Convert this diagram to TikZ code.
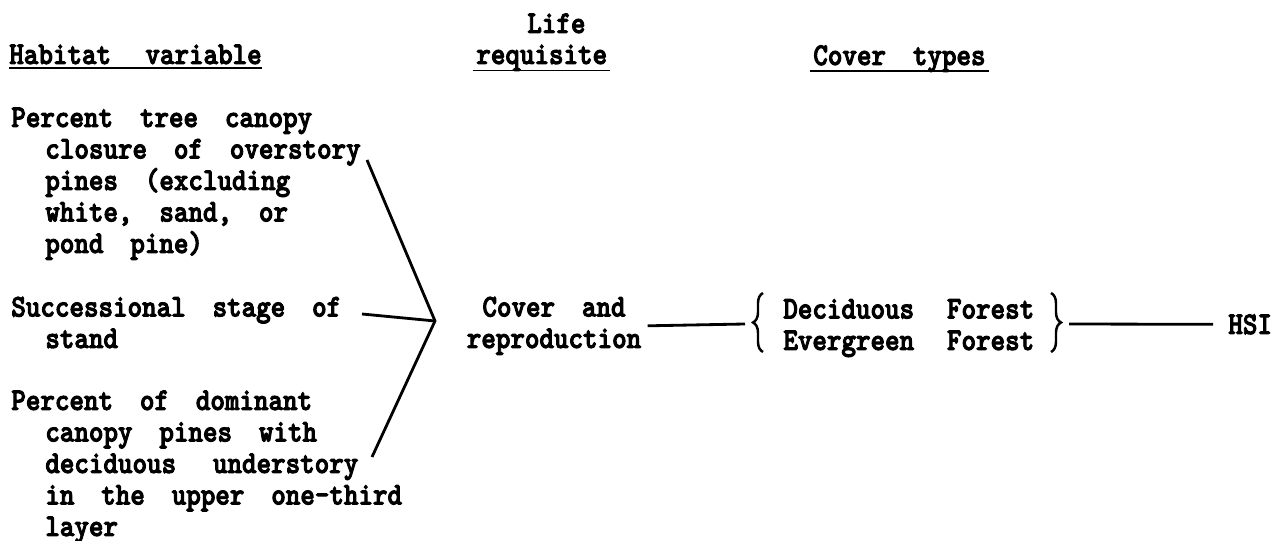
\documentclass[tikz,border=0pt]{standalone}
\usepackage{fontspec}
\usepackage{tikz}
\usetikzlibrary{positioning, decorations.pathreplacing}
\newfontfamily\typer{lmmonolt10-bold.otf}[FakeStretch=0.875, FakeBold=3, WordSpace=1.85]
\newcommand{\indnt}{\hspace*{6.8mm}}
\tikzset{
  txt/.style={inner sep=0pt, font=\typer\fontsize{18}{17.93}\selectfont},
  link/.style={line width=1.6pt},
  uline/.style={line width=1.1pt},
  brc/.style={line width=1.4pt, decorate, decoration={brace, amplitude=2mm}}
}
\begin{document}
\begin{tikzpicture}[x=0.2mm, y=-0.2mm]
\useasboundingbox (0,0) rectangle (1280,541);

% --- column headings ---
\node[txt, anchor=base west] (hdvar) at (9,64) {Habitat\hspace{1.5mm} variable};
\node[txt, anchor=base west] (hdlife) at (527,33) {Life};
\node[txt, anchor=base west] (hdreq) at (476,64) {requisite};
\node[txt, anchor=base west] (hdcov) at (813,65) {Cover types};
\draw[uline] ([yshift=-0.8mm]hdvar.base west) -- ([yshift=-0.8mm]hdvar.base east);
\draw[uline] ([shift={(-0.6mm,-1.3mm)}]hdreq.base west) -- ([shift={(0.6mm,-1.3mm)}]hdreq.base east);
\draw[uline] ([shift={(-0.6mm,-1.2mm)}]hdcov.base west) -- ([shift={(0.6mm,-1.2mm)}]hdcov.base east);

% --- habitat variables (base = last line) ---
\node[txt, anchor=base west, align=left] (hab1) at (11,253) {Percent tree canopy\\
  \indnt closure of overstory\\ \indnt pines (excluding\\ \indnt white, sand, or\\ \indnt pond pine)};
\node[txt, anchor=base west, align=left] (hab2) at (11,348) {Successional stage of\\ \indnt stand};
\node[txt, anchor=base west, align=left] (hab3) at (11,536) {Percent of dominant\\
  \indnt canopy pines with\\ \indnt deciduous\hspace{2mm} understory\\ \indnt in the upper one-third\\ \indnt layer};

\coordinate (jn) at (435,321);
\coordinate (e1) at (367,160);
\coordinate (e2) at (362,314);
\coordinate (e3) at (372,457);
\draw[link] (e1) -- (jn) -- (e3);
\draw[link] (e2) -- (jn);

% --- life requisite, cover types, HSI ---
\node[txt, anchor=base, align=center] (lrcov) at (554,348) {Cover and\\reproduction};
\node[txt, anchor=base west, align=left] (ctypes) at (783,350)
  {Deciduous\hspace{1.2mm} Forest\\Evergreen\hspace{1.2mm} Forest};
\node[txt, anchor=base west] (hsi) at (1228,334) {HSI};

\draw[brc] (763,352) -- (763,293);
\draw[brc] (1051,293) -- (1051,352);
\coordinate (lbr) at (753,324);
\coordinate (rbr) at (1061,324);
\draw[link] ([xshift=1.2mm]lrcov.east) -- ([xshift=-1.6mm]lbr);
\draw[link] ([xshift=1.6mm]rbr) -- ([xshift=-3mm]hsi.west);

\end{tikzpicture}
\end{document}
